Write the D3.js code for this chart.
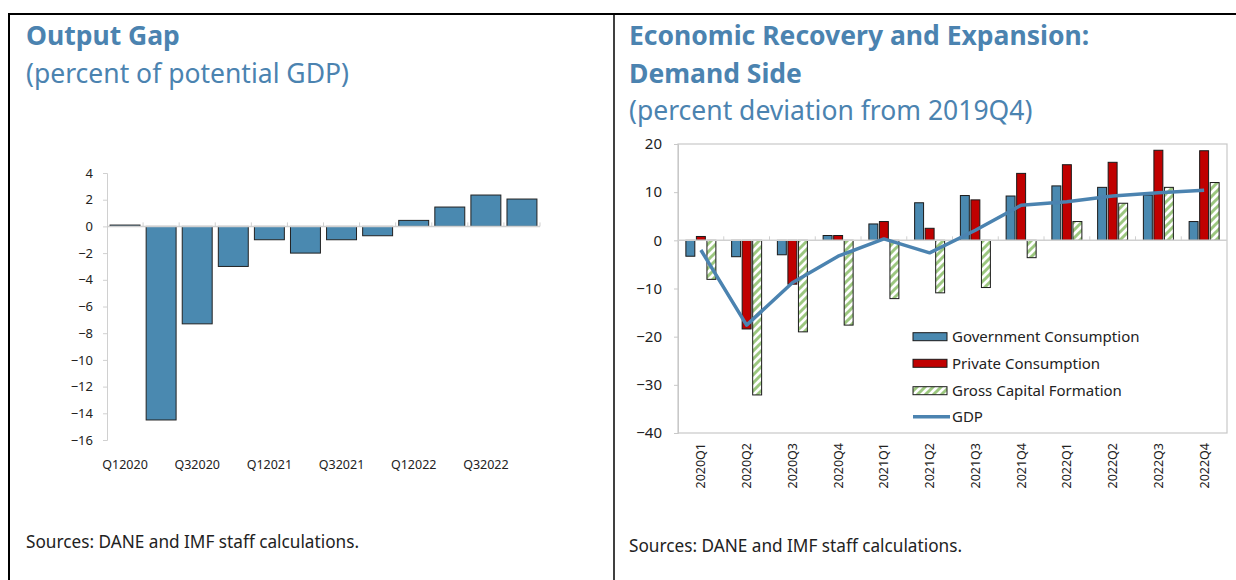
<!DOCTYPE html>
<html>
<head>
<meta charset="utf-8">
<script src="https://cdn.jsdelivr.net/npm/d3@7"></script>
<style>
  body { margin: 0; background: #fff; }
  svg { display: block; font-family: "Noto Sans", sans-serif; }
</style>
</head>
<body>
<div id="chart"></div>
<script>
// left panel: output gap
const gapQuarters = ["Q12020","Q22020","Q32020","Q42020","Q12021","Q22021","Q32021","Q42021","Q12022","Q22022","Q32022","Q42022"];
const outputGap = [0.1, -14.5, -7.3, -3.0, -1.0, -2.0, -1.0, -0.7, 0.45, 1.45, 2.35, 2.05];
const gapTicks = [-16, -14, -12, -10, -8, -6, -4, -2, 0, 2, 4];

// right panel: demand side
const quarters = ["2020Q1","2020Q2","2020Q3","2020Q4","2021Q1","2021Q2","2021Q3","2021Q4","2022Q1","2022Q2","2022Q3","2022Q4"];
const govCons  = [-3.3, -3.4, -3.0, 1.0, 3.4, 7.8, 9.3, 9.2, 11.3, 11.0, 9.4, 3.9];
const privCons = [0.8, -18.4, -9.1, 1.0, 3.9, 2.5, 8.4, 13.9, 15.7, 16.2, 18.7, 18.6];
const grossCap = [-8.1, -32.1, -19.0, -17.6, -12.1, -10.9, -9.8, -3.6, 3.9, 7.7, 11.0, 12.0];
const gdp      = [-2.0, -17.6, -8.8, -3.3, 0.3, -2.6, 2.1, 7.3, 8.0, 9.2, 9.9, 10.4];
const demandTicks = [-40, -30, -20, -10, 0, 10, 20];
const seriesNames = ["Government Consumption", "Private Consumption", "Gross Capital Formation"];

const blue = "#4a89b0";
const titleBlue = "#4b83b0";
const red = "#c00000";
const axisGrey = "#d0d0d0";

const svg = d3.select("#chart").append("svg")
  .attr("width", 1236)
  .attr("height", 580);

// hatch for gross capital formation
const defs = svg.append("defs");
const hatch = defs.append("pattern")
  .attr("id", "hatch")
  .attr("patternUnits", "userSpaceOnUse")
  .attr("width", 8)
  .attr("height", 8);
hatch.append("rect").attr("width", 8).attr("height", 8).attr("fill", "#fff");
hatch.append("path")
  .attr("d", "M-2,2 L2,-2 M0,8 L8,0 M6,10 L10,6")
  .attr("stroke", "#9cc77f")
  .attr("stroke-width", 3);

// panel frame
svg.append("line").attr("x1", 9).attr("x2", 1236).attr("y1", 14).attr("y2", 14)
  .attr("stroke", "#000").attr("stroke-width", 2);
svg.append("line").attr("x1", 9).attr("x2", 9).attr("y1", 13).attr("y2", 580)
  .attr("stroke", "#000").attr("stroke-width", 2);
svg.append("line").attr("x1", 614).attr("x2", 614).attr("y1", 13).attr("y2", 580)
  .attr("stroke", "#000").attr("stroke-width", 1.5);

// titles
function title(x, y, txt, bold) {
  svg.append("text")
    .attr("x", x).attr("y", y)
    .attr("fill", titleBlue)
    .attr("font-size", "26.5px")
    .attr("font-weight", bold ? "bold" : "normal")
    .text(txt);
}
title(26, 45, "Output Gap", true);
title(26, 83, "(percent of potential GDP)", false);
title(629, 45, "Economic Recovery and Expansion:", true);
title(629, 83, "Demand Side", true);
title(629, 120, "(percent deviation from 2019Q4)", false);

svg.append("text").attr("x", 26).attr("y", 548)
  .attr("font-size", "17.2px").attr("fill", "#222")
  .text("Sources: DANE and IMF staff calculations.");
svg.append("text").attr("x", 629).attr("y", 552)
  .attr("font-size", "17.2px").attr("fill", "#222")
  .text("Sources: DANE and IMF staff calculations.");

// ---------- left chart ----------
const xL = d3.scaleBand().domain(gapQuarters).range([107, 540])
  .paddingInner(0.17).paddingOuter(0.085);
const yL = d3.scaleLinear().domain([-16, 4]).range([440, 173]);

const gL = svg.append("g");

const axL = gL.append("g")
  .attr("transform", "translate(107,0)")
  .call(d3.axisLeft(yL).tickValues(gapTicks).tickSize(4).tickPadding(10))
  .attr("font-family", null);
axL.select(".domain").attr("stroke", axisGrey);
axL.selectAll(".tick line").attr("stroke", axisGrey);
axL.selectAll("text").attr("font-size", "13px").attr("fill", "#222");

gL.selectAll("rect.gap")
  .data(outputGap)
  .enter().append("rect")
  .attr("class", "gap")
  .attr("x", (d, i) => xL(gapQuarters[i]))
  .attr("width", xL.bandwidth())
  .attr("y", d => yL(Math.max(0, d)))
  .attr("height", d => Math.abs(yL(d) - yL(0)))
  .attr("fill", blue)
  .attr("stroke", "#222")
  .attr("stroke-width", 1);

// zero line with category separators
gL.append("line")
  .attr("x1", 107).attr("x2", 540)
  .attr("y1", yL(0)).attr("y2", yL(0))
  .attr("stroke", axisGrey).attr("stroke-width", 1.5);
gL.selectAll("line.sep")
  .data(d3.range(1, gapQuarters.length + 1))
  .enter().append("line")
  .attr("class", "sep")
  .attr("x1", i => 107 + i * xL.step()).attr("x2", i => 107 + i * xL.step())
  .attr("y1", yL(0) - 4).attr("y2", yL(0))
  .attr("stroke", axisGrey);

const axLb = gL.append("g")
  .attr("transform", "translate(0,440)")
  .call(d3.axisBottom(xL)
    .tickValues(gapQuarters.filter((d, i) => i % 2 === 0))
    .tickSize(0).tickPadding(20))
  .attr("font-family", null);
axLb.select(".domain").remove();
axLb.selectAll("text").attr("font-size", "12.5px").attr("fill", "#222");

// ---------- right chart ----------
const plotL = 678, plotR = 1227, plotT = 144, plotB = 433;
const xR = d3.scaleBand().domain(quarters).range([plotL, plotR]);
const xSub = d3.scaleBand().domain(seriesNames).range([-15, 15]).paddingInner(0.15);
const yR = d3.scaleLinear().domain([-40, 20]).range([plotB, plotT]);

const gR = svg.append("g");

gR.append("rect")
  .attr("x", plotL).attr("y", plotT)
  .attr("width", plotR - plotL).attr("height", plotB - plotT)
  .attr("fill", "none").attr("stroke", "#c8c8c8").attr("stroke-width", 1.2);

const axR = gR.append("g")
  .attr("transform", `translate(${plotL},0)`)
  .call(d3.axisLeft(yR).tickValues(demandTicks).tickSize(4).tickPadding(12))
  .attr("font-family", null);
axR.select(".domain").attr("stroke", "#c8c8c8");
axR.selectAll(".tick line").attr("stroke", "#c8c8c8");
axR.selectAll("text").attr("font-size", "15px").attr("fill", "#222");

const seriesData = [
  { name: seriesNames[0], values: govCons, fill: blue },
  { name: seriesNames[1], values: privCons, fill: red },
  { name: seriesNames[2], values: grossCap, fill: "url(#hatch)" }
];

seriesData.forEach(s => {
  gR.selectAll(null)
    .data(s.values)
    .enter().append("rect")
    .attr("x", (d, i) => xR(quarters[i]) + xR.bandwidth() / 2 + xSub(s.name))
    .attr("width", xSub.bandwidth())
    .attr("y", d => yR(Math.max(0, d)))
    .attr("height", d => Math.abs(yR(d) - yR(0)))
    .attr("fill", s.fill)
    .attr("stroke", "#1a1a1a")
    .attr("stroke-width", 1);
});

// zero axis with separators
gR.append("line")
  .attr("x1", plotL).attr("x2", plotR)
  .attr("y1", yR(0)).attr("y2", yR(0))
  .attr("stroke", axisGrey).attr("stroke-width", 1.5);
gR.selectAll("line.sep")
  .data(d3.range(1, quarters.length))
  .enter().append("line")
  .attr("x1", i => plotL + i * xR.step()).attr("x2", i => plotL + i * xR.step())
  .attr("y1", yR(0) - 4).attr("y2", yR(0))
  .attr("stroke", axisGrey);

const line = d3.line()
  .x((d, i) => xR(quarters[i]) + xR.bandwidth() / 2)
  .y(d => yR(d));
gR.append("path")
  .datum(gdp)
  .attr("d", line)
  .attr("fill", "none")
  .attr("stroke", titleBlue)
  .attr("stroke-width", 3.5)
  .attr("stroke-linejoin", "round");

// rotated category labels
gR.selectAll("text.cat")
  .data(quarters)
  .enter().append("text")
  .attr("class", "cat")
  .attr("transform", d => `translate(${xR(d) + xR.bandwidth() / 2},443) rotate(-90)`)
  .attr("text-anchor", "end")
  .attr("dy", "0.35em")
  .attr("font-size", "12.5px")
  .attr("fill", "#222")
  .text(d => d);

// legend
const legendRows = [336.7, 363.3, 390.7, 416.7];
const legend = gR.append("g");
seriesData.forEach((s, i) => {
  legend.append("rect")
    .attr("x", 913).attr("y", legendRows[i] - 4)
    .attr("width", 34).attr("height", 8)
    .attr("fill", s.fill).attr("stroke", "#1a1a1a");
  legend.append("text")
    .attr("x", 952).attr("y", legendRows[i]).attr("dy", "0.35em")
    .attr("font-size", "15px").attr("fill", "#222")
    .text(s.name);
});
legend.append("line")
  .attr("x1", 913).attr("x2", 950)
  .attr("y1", legendRows[3]).attr("y2", legendRows[3])
  .attr("stroke", titleBlue).attr("stroke-width", 3.5);
legend.append("text")
  .attr("x", 952).attr("y", legendRows[3]).attr("dy", "0.35em")
  .attr("font-size", "15px").attr("fill", "#222")
  .text("GDP");
</script>
</body>
</html>
